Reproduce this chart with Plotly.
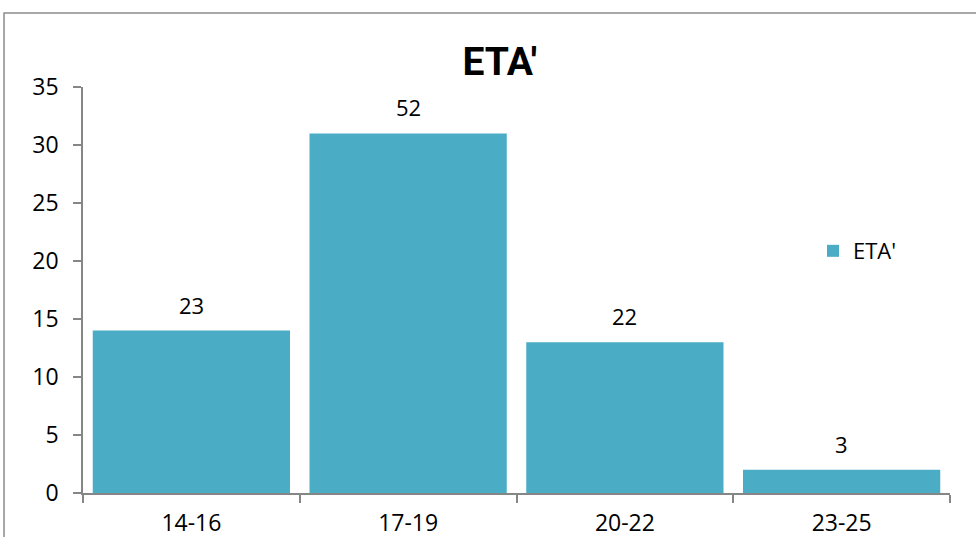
import plotly.graph_objects as go

# Age groups and number of respondents per group
age_groups = ["14-16", "17-19", "20-22", "23-25"]
counts = [14, 31, 13, 2]
series_name = "ETA'"

# Labels above the bars show each group's share of the total, in percent
total = sum(counts)
share_labels = [str(round(c / total * 100)) for c in counts]

BAR_COLOR = "#4BACC6"
AXIS_COLOR = "#868686"
FONT = "Open Sans"

fig = go.Figure()
fig.add_trace(go.Bar(
    x=age_groups,
    y=counts,
    name=series_name,
    marker=dict(color=BAR_COLOR, line=dict(width=0)),
    showlegend=True,
))

for g, c, lab in zip(age_groups, counts, share_labels):
    fig.add_annotation(
        x=g, y=c, text=lab, showarrow=False,
        yanchor="bottom", yshift=9,
        font=dict(family=FONT, size=22, color="#000000"),
    )

fig.update_layout(
    width=976, height=537,
    margin=dict(l=83, r=26, t=87, b=44),
    paper_bgcolor="white", plot_bgcolor="white",
    bargap=0.09,
    title=dict(
        text="<b>ETA'</b>", x=0.512, xanchor="center", y=0.885, yanchor="middle",
        font=dict(family="Roboto", size=39, color="#000000"),
    ),
    legend=dict(
        x=0.842, y=0.596, xanchor="left", yanchor="middle",
        font=dict(family=FONT, size=22, color="#000000"),
        bgcolor="rgba(0,0,0,0)", itemwidth=30,
    ),
    xaxis=dict(
        showline=True, linecolor=AXIS_COLOR, linewidth=1.5,
        ticks="outside", ticklen=8, tickcolor=AXIS_COLOR, tickwidth=1.5,
        tickson="boundaries", showgrid=False, ticklabelstandoff=9,
        automargin=False,
        tickfont=dict(family=FONT, size=23, color="#000000"),
    ),
    yaxis=dict(
        range=[0, 35], dtick=5, showgrid=False, zeroline=False,
        showline=True, linecolor=AXIS_COLOR, linewidth=1.5,
        ticks="outside", ticklen=8, tickcolor=AXIS_COLOR, tickwidth=1.5,
        ticklabelstandoff=10, automargin=False,
        tickfont=dict(family=FONT, size=23, color="#000000"),
    ),
    shapes=[dict(
        type="rect", xref="paper", yref="paper",
        x0=-0.0911, x1=1.04, y0=-0.12, y1=1.182,
        line=dict(color="#8C8C8C", width=1.5), fillcolor="rgba(0,0,0,0)",
        layer="below",
    )],
)

fig.write_html("out.html")
